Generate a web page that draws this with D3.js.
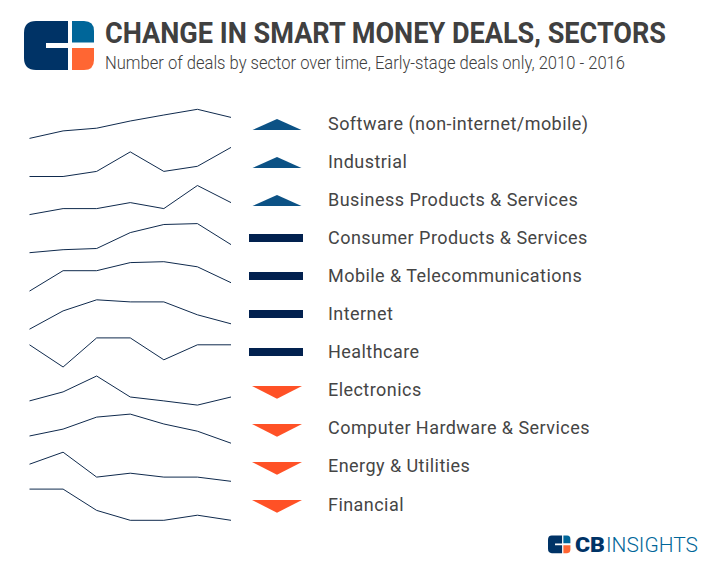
<!DOCTYPE html>
<html><head><meta charset="utf-8">
<script src="https://cdn.jsdelivr.net/npm/d3@7/dist/d3.min.js"></script>
<style>html,body{margin:0;padding:0;background:#fff}svg{display:block}text{font-family:Roboto,sans-serif}</style>
</head><body><svg id="c" width="723" height="583"></svg>
<script>
const years = [2010,2011,2012,2013,2014,2015,2016];
const sectors = ["Software (non-internet/mobile)","Industrial","Business Products & Services","Consumer Products & Services","Mobile & Telecommunications","Internet","Healthcare","Electronics","Computer Hardware & Services","Energy & Utilities","Financial"];
const trends = ["up","up","up","flat","flat","flat","flat","down","down","down","down"];
const software = [0.2,2.7,3.6,6,8,9.9,7.2];
const industrial = [0.2,0.2,1.9,8.4,1.9,3.6,9.9];
const business = [0.2,2.2,2.2,4.2,2.2,9.9,4.2];
const consumer = [0.2,1.2,1.6,6.9,9.6,9.9,2.9];
const mobile = [0.1,6.9,6.9,9.6,9.9,8.2,2.9];
const internet = [0.1,6.2,9.9,9.2,9.2,4.9,1.9];
const healthcare = [7.6,0.2,9.9,9.9,2.6,7.6,7.6];
const electronics = [1.6,4.6,9.9,2.9,1.6,0.2,2.9];
const hardware = [2.6,4.9,8.9,9.9,6.6,4.2,0.2];
const energy = [5.9,9.9,1.6,2.9,1.6,1.6,0.2];
const financial = [10.3,10.3,3.2,-0.1,-0.1,1.6,-0.1];
const series = [software,industrial,business,consumer,mobile,internet,healthcare,electronics,hardware,energy,financial];

const svg = d3.select("#c");
const x = d3.scaleLinear().domain([2010,2016]).range([29.5,231]);
const rowY = d3.scalePoint().domain(sectors).range([123,504]);
const glyphY = d3.scalePoint().domain(sectors).range([120,500]);
const y = d3.scaleLinear().domain([0,10]).range([16,-14]);
const line = d3.line().x((d,i)=>x(years[i])).y(d=>y(d));
const colors = {up:"#0c5285",flat:"#02214f",down:"#ff5126"};
const glyph = {
  up:"M-24.5,10 L0,-1 L24.5,10 Z",
  flat:"M-27,0 H27 V8 H-27 Z",
  down:"M-25,0 H25 L0,12.7 Z"
};

const rows = svg.append("g").selectAll("g").data(sectors).join("g")
  .attr("transform",d=>`translate(0,${rowY(d)})`);
rows.append("path").attr("d",(d,i)=>line(series[i]))
  .attr("fill","none").attr("stroke","#0f2a4d").attr("stroke-width",1);
rows.append("text").attr("x",328).attr("y",6.5).text(d=>d)
  .attr("font-size",18).attr("letter-spacing",0.45).attr("fill","#454545");
svg.append("g").selectAll("path").data(sectors).join("path")
  .attr("transform",(d,i)=>`translate(${trends[i]==="flat"?276:277},${glyphY(d)})`)
  .attr("d",(d,i)=>glyph[trends[i]]).attr("fill",(d,i)=>colors[trends[i]]);

// header
const title = svg.append("text").attr("x",105).attr("y",43)
  .attr("font-size",29.5).attr("font-weight",700).attr("fill","#404040")
  .attr("textLength",561).attr("lengthAdjust","spacingAndGlyphs")
  .text("CHANGE IN SMART MONEY DEALS, SECTORS");
svg.append("text").attr("x",105).attr("y",69).text("Number of deals by sector over time, Early-stage deals only, 2010 - 2016")
  .attr("font-size",19).attr("font-weight",300).attr("fill","#404040")
  .attr("textLength",520).attr("lengthAdjust","spacingAndGlyphs");

// logo
function logo(g,s){
  const p=g.append("g").attr("transform",s);
  p.append("path").attr("fill","#003366")
   .attr("d","M12,0 H44 V22 H22 V27 H44 V49 H12 Q0,49 0,37 V12 Q0,0 12,0 Z");
  p.append("path").attr("fill","#006699")
   .attr("d","M48,0 H60 Q70,0 70,10 V21.5 H48 Z");
  p.append("path").attr("fill","#ff6633")
   .attr("d","M48,27 H70 V39 Q70,49 60,49 H48 Z");
}
logo(svg,"translate(24,21)");
logo(svg,"translate(548,535.5) scale(0.32,0.36)");
svg.append("text").attr("x",575).attr("y",552).text("CB")
  .attr("font-size",21).attr("font-weight",900).attr("fill","#003366")
  .attr("textLength",30).attr("lengthAdjust","spacingAndGlyphs");
svg.append("text").attr("x",606).attr("y",552).text("INSIGHTS")
  .attr("font-size",21).attr("font-weight",300).attr("fill","#006699")
  .attr("textLength",92).attr("lengthAdjust","spacingAndGlyphs");
</script></body></html>
